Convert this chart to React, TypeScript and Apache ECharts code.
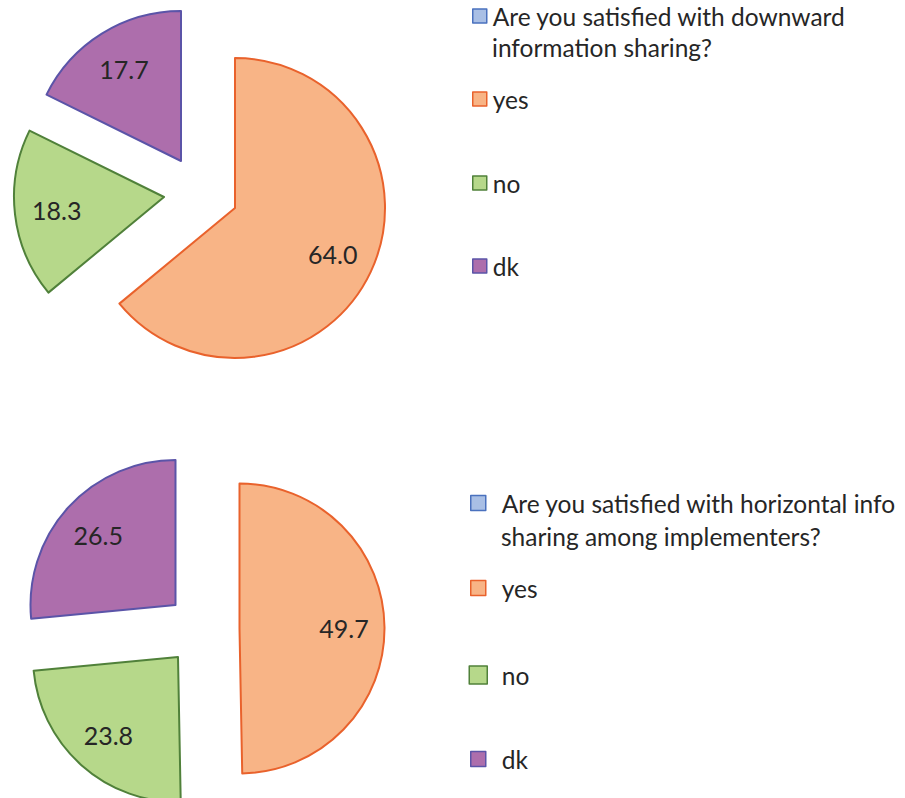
import React, { useEffect, useRef } from 'react';
import * as echarts from 'echarts';

// ---- data ----
const categoriesTop = ['Are you satisfied with downward information sharing?', 'yes', 'no', 'dk'];
const categoriesBottom = ['Are you satisfied with horizontal info sharing among implementers?', 'yes', 'no', 'dk'];
const questionLinesTop = ['Are you satisfied with downward', 'information sharing?'];
const questionLinesBottom = ['Are you satisfied with horizontal info', 'sharing among implementers?'];
const valuesTop = [0, 64.0, 18.3, 17.7];
const valuesBottom = [0, 49.7, 23.8, 26.5];

// ---- styles ----
const fills = ['#A9BFE5', '#F8B486', '#B6D88A', '#AD6EAC'];
const borders = ['#4A71BE', '#E9622C', '#50813A', '#5B54A8'];
const FONT = 'Lato, Carlito, Calibri, sans-serif';
const TEXT = '#262626';

type PieCfg = {
  names: string[];
  values: number[];
  radius: number;
  centers: [number, number][]; // per slice (index 0 unused)
};

const pieTop: PieCfg = {
  names: categoriesTop,
  values: valuesTop,
  radius: 150,
  centers: [[235, 208], [235, 208], [164, 197], [181, 161]],
};
const pieBottom: PieCfg = {
  names: categoriesBottom,
  values: valuesBottom,
  radius: 145,
  centers: [[239.5, 628.5], [239.5, 628.5], [178, 657], [175.5, 605]],
};

const transparent = 'rgba(0,0,0,0)';

function buildSeries(cfg: PieCfg): any[] {
  const out: any[] = [];
  for (let k = 1; k < cfg.values.length; k++) {
    // visible sector
    out.push({
      type: 'pie',
      silent: true,
      center: cfg.centers[k],
      radius: [0, cfg.radius],
      startAngle: 90,
      clockwise: true,
      avoidLabelOverlap: false,
      label: { show: false },
      labelLine: { show: false },
      emphasis: { disabled: true },
      data: cfg.values.map((v, i) => ({
        name: cfg.names[i],
        value: v,
        itemStyle:
          i === k
            ? { color: fills[i], borderColor: borders[i], borderWidth: 2 }
            : { color: transparent, borderWidth: 0 },
      })),
    });
    // label ring (puts label at ~0.7 of radius)
    out.push({
      type: 'pie',
      silent: true,
      center: cfg.centers[k],
      radius: [cfg.radius * 0.4, cfg.radius],
      startAngle: 90,
      clockwise: true,
      avoidLabelOverlap: false,
      label: {
        show: true,
        position: 'inside',
        formatter: (p: any) => Number(p.value).toFixed(1),
        fontFamily: FONT,
        fontSize: 25,
        color: TEXT,
      },
      labelLine: { show: false },
      emphasis: { disabled: true },
      data: cfg.values.map((v, i) => ({
        name: cfg.names[i],
        value: v,
        itemStyle: { color: transparent, borderWidth: 0 },
        label: { show: i === k },
      })),
    });
  }
  return out;
}

type LegendItem = {
  name: string;
  colorIdx: number;
  text: string;
  left: number;
  top: number;
  size: number;
  fontSize: number;
  lineHeight: number;
  padLeft: number;
  noIcon?: boolean;
};

function buildLegend(it: LegendItem): any {
  return {
    orient: 'vertical',
    left: it.left,
    top: it.top,
    padding: 0,
    selectedMode: false,
    itemWidth: it.size,
    itemHeight: it.size,
    data: [
      {
        name: it.name,
        icon: it.noIcon ? 'none' : 'rect',
        itemStyle: it.noIcon
          ? { color: transparent, borderWidth: 0 }
          : { color: fills[it.colorIdx], borderColor: borders[it.colorIdx], borderWidth: 1.5 },
      },
    ],
    formatter: () => it.text,
    textStyle: {
      fontFamily: FONT,
      fontSize: it.fontSize,
      lineHeight: it.lineHeight,
      color: TEXT,
      padding: [0, 0, 0, it.padLeft],
    },
  };
}

const legendItems: LegendItem[] = [
  // top chart
  { name: categoriesTop[0], colorIdx: 0, text: questionLinesTop[0], left: 472, top: 0.5, size: 14, fontSize: 24.5, lineHeight: 31, padLeft: 1 },
  { name: categoriesTop[0], colorIdx: 0, text: questionLinesTop[1], left: 472, top: 31.5, size: 14, fontSize: 24.5, lineHeight: 31, padLeft: 1, noIcon: true },
  { name: categoriesTop[1], colorIdx: 1, text: categoriesTop[1], left: 472, top: 83.5, size: 14, fontSize: 24.5, lineHeight: 31, padLeft: 1 },
  { name: categoriesTop[2], colorIdx: 2, text: categoriesTop[2], left: 472, top: 167.5, size: 14, fontSize: 24.5, lineHeight: 31, padLeft: 1 },
  { name: categoriesTop[3], colorIdx: 3, text: categoriesTop[3], left: 472, top: 250.5, size: 14, fontSize: 24.5, lineHeight: 31, padLeft: 1 },
  // bottom chart
  { name: categoriesBottom[0], colorIdx: 0, text: questionLinesBottom[0], left: 470, top: 486.5, size: 15, fontSize: 24.5, lineHeight: 33, padLeft: 11 },
  { name: categoriesBottom[0], colorIdx: 0, text: questionLinesBottom[1], left: 470, top: 519.5, size: 15, fontSize: 24.5, lineHeight: 33, padLeft: 11, noIcon: true },
  { name: categoriesBottom[1], colorIdx: 1, text: categoriesBottom[1], left: 470, top: 571.5, size: 15, fontSize: 24.5, lineHeight: 33, padLeft: 11 },
  { name: categoriesBottom[2], colorIdx: 2, text: categoriesBottom[2], left: 468.5, top: 658.5, size: 18, fontSize: 24.5, lineHeight: 33, padLeft: 9.5 },
  { name: categoriesBottom[3], colorIdx: 3, text: categoriesBottom[3], left: 470, top: 742.5, size: 15, fontSize: 24.5, lineHeight: 33, padLeft: 11 },
];

export default function App() {
  const ref = useRef<HTMLDivElement>(null);
  useEffect(() => {
    if (!ref.current) return;
    const chart = echarts.init(ref.current, undefined, { renderer: 'svg' });
    chart.setOption({
      animation: false,
      backgroundColor: '#ffffff',
      legend: legendItems.map(buildLegend),
      series: [...buildSeries(pieTop), ...buildSeries(pieBottom)],
    });
    return () => chart.dispose();
  }, []);
  return (
    <div
      ref={ref}
      style={{ position: 'absolute', left: 0, top: 0, width: 905, height: 798 }}
    />
  );
}
